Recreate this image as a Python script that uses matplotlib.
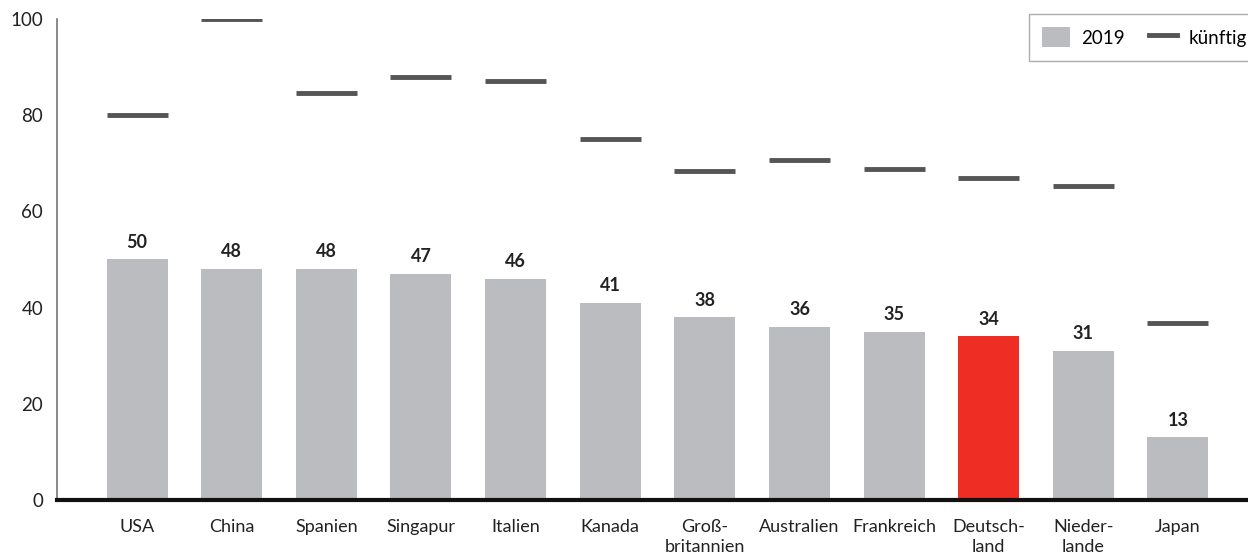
import numpy as np
import matplotlib.pyplot as plt
from matplotlib.patches import Patch
from matplotlib.lines import Line2D

plt.rcParams["font.family"] = ["Lato", "DejaVu Sans"]

countries = ["USA", "China", "Spanien", "Singapur", "Italien", "Kanada",
             "Groß-\nbritannien", "Australien", "Frankreich", "Deutsch-\nland",
             "Nieder-\nlande", "Japan"]
values_2019 = [50, 48, 48, 47, 46, 41, 38, 36, 35, 34, 31, 13]
values_future = [80, 100, 84.6, 88, 87.1, 75, 68.4, 70.7, 68.8, 67, 65.3, 36.8]
highlight = "Deutsch-\nland"

GRAY = "#BBBCC0"
RED = "#EE2E24"
DARK = "#555555"
W = 0.645

fig = plt.figure(figsize=(12.48, 5.57), dpi=100)
ax = fig.add_axes([0.0457, 0.1023, 0.9543, 0.8637])

x = np.arange(len(countries))
colors = [RED if c == highlight else GRAY for c in countries]
ax.bar(x, values_2019, width=W, color=colors, zorder=2)
ax.hlines(values_future, x - W / 2, x + W / 2, color=DARK, linewidth=3.5, zorder=3)

for xi, v in zip(x, values_2019):
    ax.text(xi, v + 1.8, f"{v}", ha="center", va="bottom",
            fontsize=13, fontweight="bold", color="#222222")

ax.set_xlim(-0.846, 11.74)
ax.set_ylim(0, 100)
ax.set_yticks([0, 20, 40, 60, 80, 100])
ax.set_xticks(x)
ax.set_xticklabels(countries, linespacing=1.3)
ax.tick_params(axis="both", length=0, labelsize=13, colors="#222222")
ax.tick_params(axis="x", pad=14)
ax.tick_params(axis="y", labelsize=13.5, pad=10)

for s in ["top", "right"]:
    ax.spines[s].set_visible(False)
ax.spines["left"].set_color("#777777")
ax.spines["left"].set_linewidth(1.2)
ax.spines["bottom"].set_color("#111111")
ax.spines["bottom"].set_linewidth(3)
ax.spines["bottom"].set_zorder(4)

handles = [Patch(facecolor=GRAY, edgecolor="none"),
           Line2D([0], [0], color=DARK, linewidth=3.5)]
leg = ax.legend(handles, ["2019", "künftig"], loc="upper right", ncol=2,
                bbox_to_anchor=(1.018, 1.03), fontsize=13.5, frameon=True,
                fancybox=False, edgecolor="#999999", handlelength=1.5,
                handleheight=1.3, handletextpad=0.6, columnspacing=1.3,
                borderpad=0.7)
leg.get_frame().set_linewidth(1)

fig.savefig("out.png", dpi=100)
